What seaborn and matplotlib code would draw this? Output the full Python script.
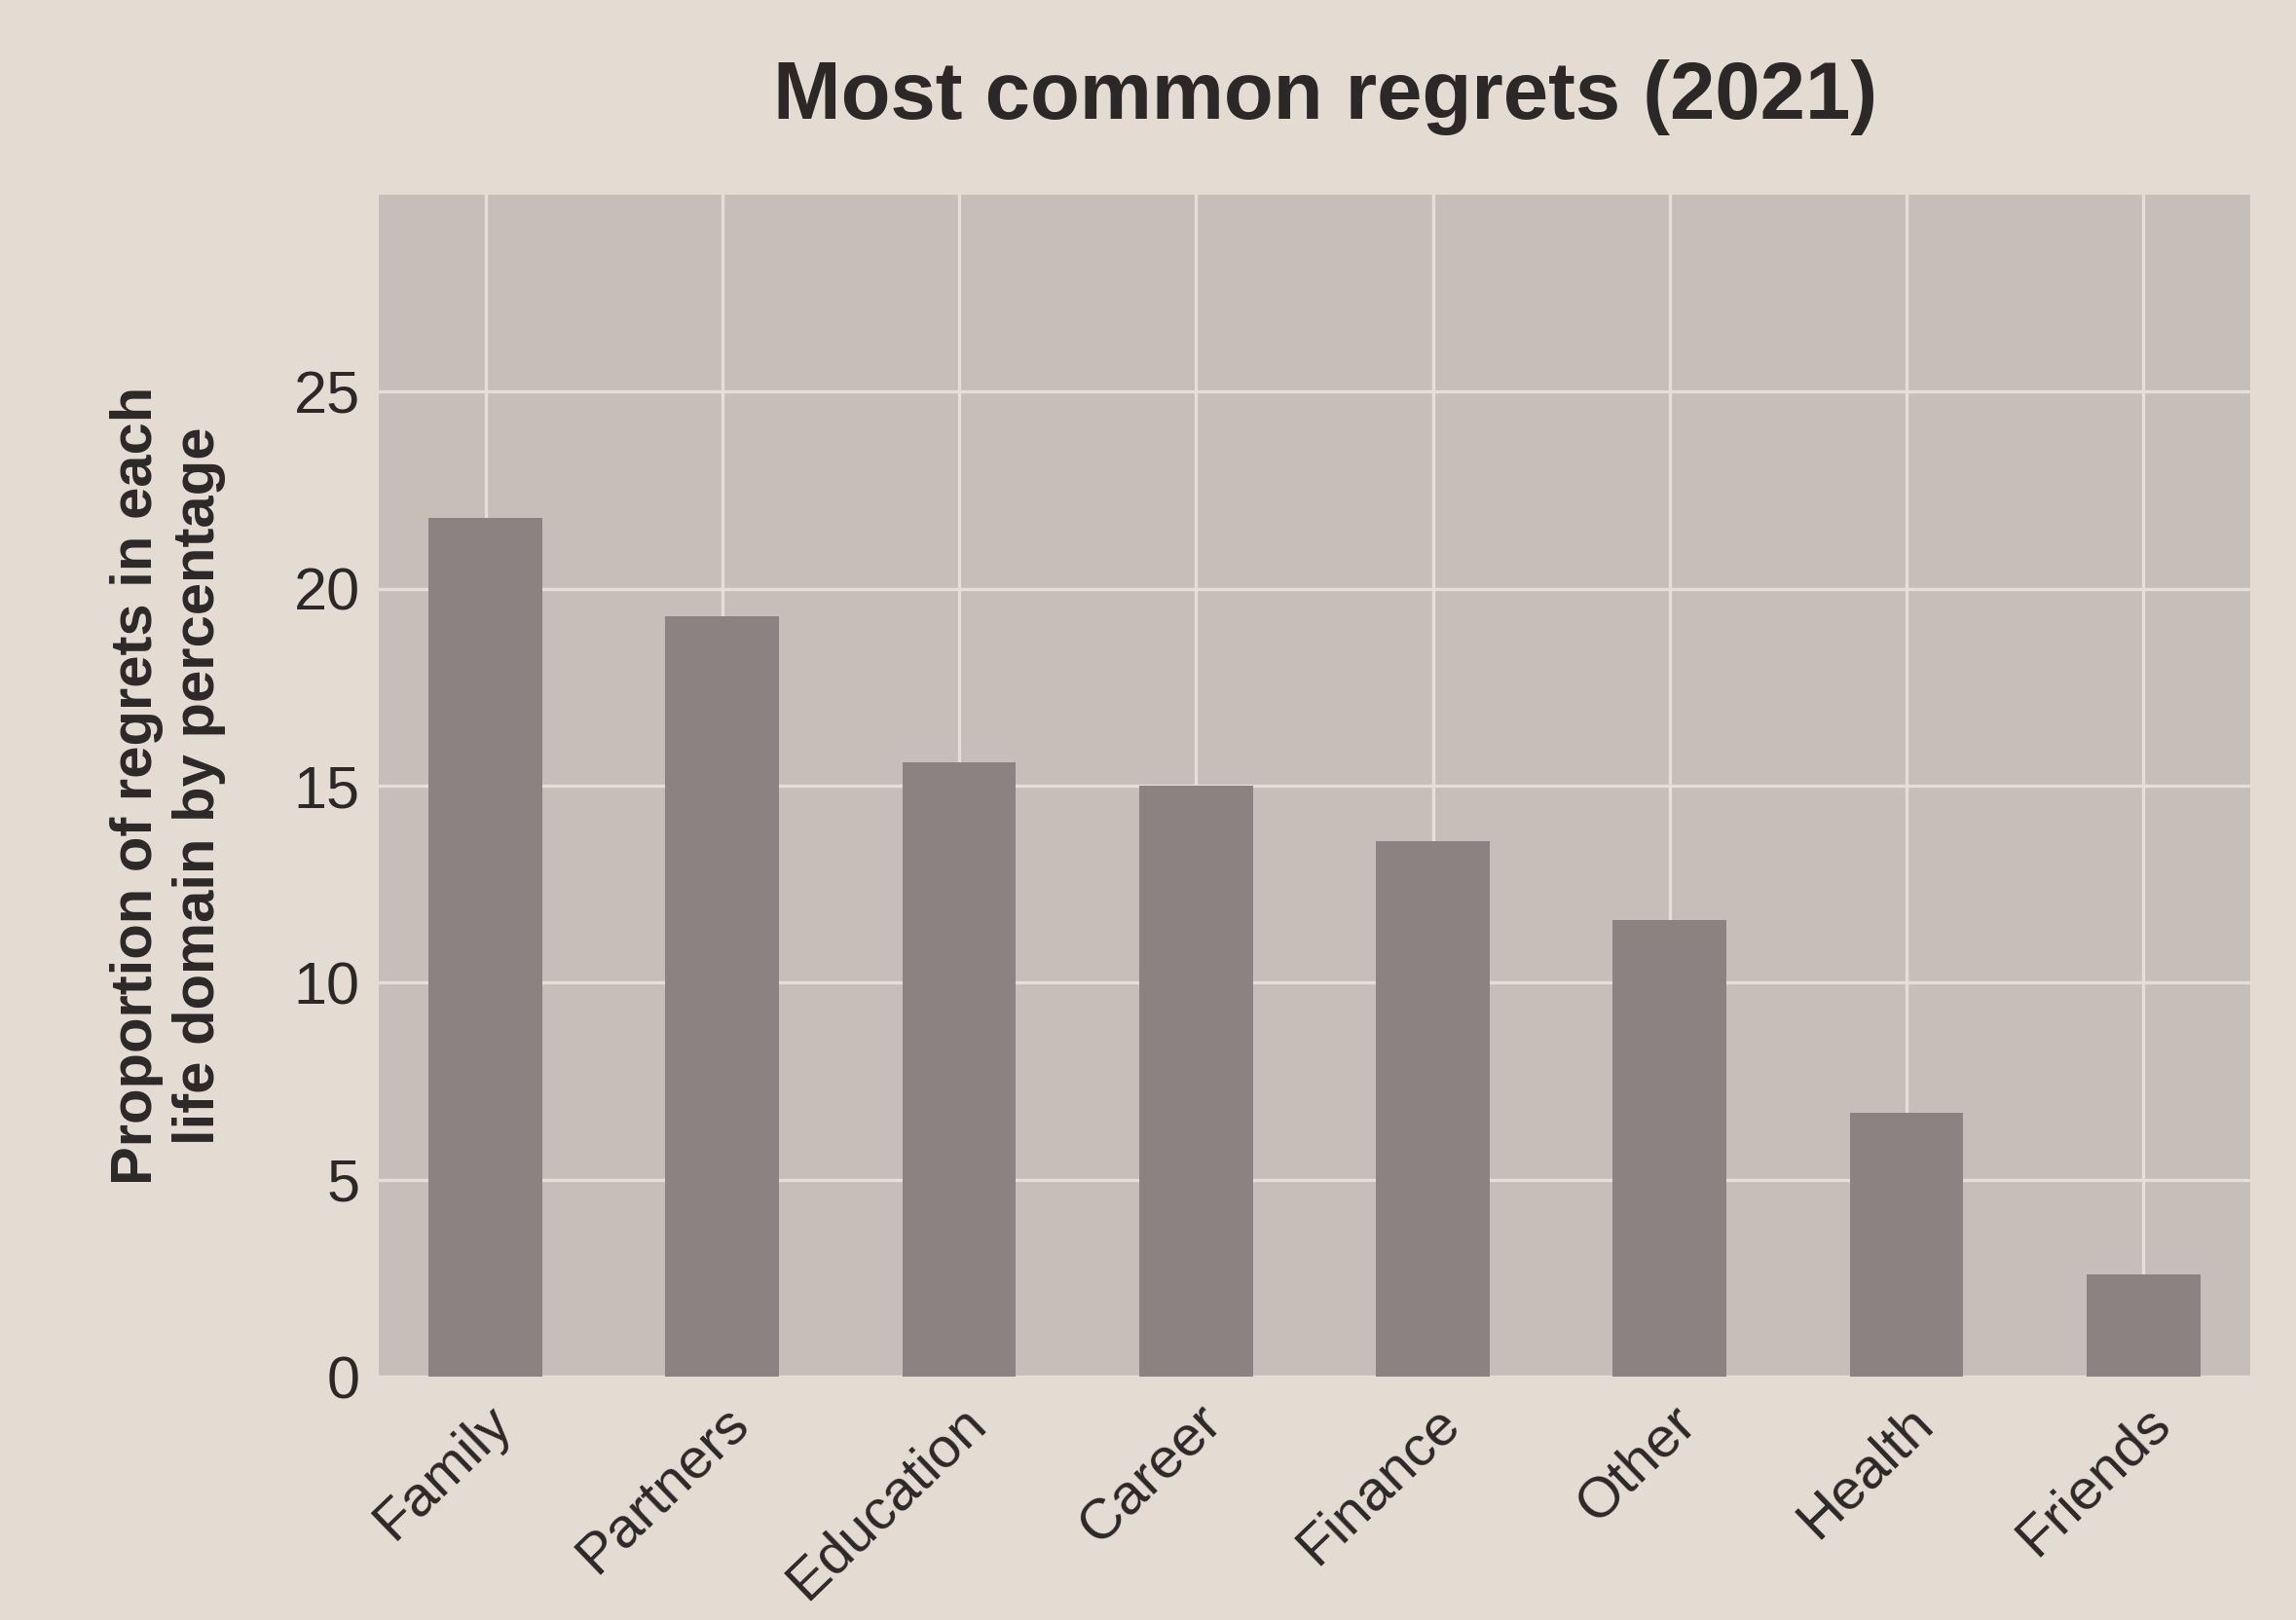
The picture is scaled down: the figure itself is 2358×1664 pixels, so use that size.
import matplotlib

matplotlib.use("Agg")
import matplotlib.pyplot as plt
import pandas as pd
import seaborn as sns

TITLE = "Most common regrets (2021)"
Y_LABEL = "Proportion of regrets in each\nlife domain by percentage"
DOMAINS = ["Family", "Partners", "Education", "Career", "Finance", "Other", "Health", "Friends"]
PERCENT = [21.8, 19.3, 15.6, 15.0, 13.6, 11.6, 6.7, 2.6]
Y_TICKS = [0, 5, 10, 15, 20, 25]

PAPER = "#e4dbd3"
PANEL = "#c6beb9"
BAR = "#8a8381"
GRID = "#e6dfd9"
INK = "#2b2827"


def main() -> None:
    df = pd.DataFrame({"domain": DOMAINS, "percent": PERCENT})

    sns.set_theme(style="darkgrid")
    plt.rcParams["font.family"] = ["Liberation Sans", "DejaVu Sans"]

    fig = plt.figure(figsize=(23.58, 16.64), dpi=100, facecolor=PAPER)
    ax = fig.add_axes([0.165, 0.15, 0.815, 0.73])
    ax.set_facecolor(PANEL)

    sns.barplot(data=df, x="domain", y="percent", color=BAR, width=0.48,
                saturation=1, linewidth=0, ax=ax, zorder=3)

    ax.set_ylim(0, 30)
    ax.set_xlim(-0.45, len(DOMAINS) - 0.55)
    ax.set_yticks(Y_TICKS)
    ax.set_yticklabels([str(t) for t in Y_TICKS], fontsize=44, color=INK)
    ax.set_xticks(range(len(DOMAINS)))
    ax.set_xticklabels(DOMAINS, rotation=44, ha="right", rotation_mode="anchor",
                       fontsize=42, color=INK)
    ax.tick_params(axis="both", length=0, pad=14)

    ax.grid(True, color=GRID, linewidth=2.4, zorder=0)
    ax.set_axisbelow(True)
    for spine in ax.spines.values():
        spine.set_visible(False)

    ax.set_xlabel("")
    ax.set_ylabel(Y_LABEL, fontsize=43, fontweight="bold", color=INK,
                  labelpad=50, linespacing=1.2)

    fig.text(0.577, 0.94, TITLE, ha="center", va="center", fontsize=60,
             fontweight="bold", color=INK)

    fig.savefig("out.png", dpi=100, facecolor=PAPER)
    plt.close(fig)


if __name__ == "__main__":
    main()
